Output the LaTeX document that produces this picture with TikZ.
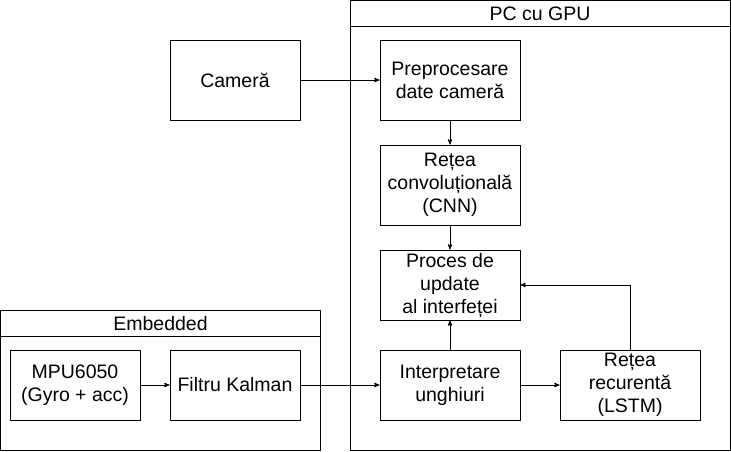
\documentclass[tikz,border=0pt]{standalone}
\usepackage{fontspec}
\setmainfont{Liberation Sans}
\usetikzlibrary{arrows}
\usetikzlibrary{positioning}

\begin{document}
\begin{tikzpicture}[->,>=stealth',x=1pt,y=-1pt,line width=0.9pt,
    block/.style={rectangle,draw,-,align=center,inner sep=0pt,
      minimum width=140pt,minimum height=80pt,font=\fontsize{19.5}{23}\selectfont},
    small block/.style={block,minimum width=130pt,minimum height=70pt},
    group/.style={rectangle,draw,-,inner sep=0pt},
    group title/.style={rectangle,draw,-,inner sep=0pt,minimum height=26pt,
      anchor=north,font=\fontsize{19.5}{23}\selectfont}]
      \useasboundingbox (0,0) rectangle (731,451);

      % containers
      \node [group,minimum width=380pt,minimum height=450pt] (pc) at (540,225.5) {};
      \node [group title,minimum width=380pt] (pctitle) at (pc.north) {PC cu GPU};
      \node [group,minimum width=320pt,minimum height=140pt] (emb) at (160.5,380.5) {};
      \node [group title,minimum width=320pt] (embtitle) at (emb.north) {Embedded};

      % blocks
      \node [small block,minimum height=80pt] (cam) at (235,80) {Cameră};
      \node [block] (prep) at (450,80) {Preprocesare\\date cameră};
      \node [block] (cnn) at (450,185) {Rețea\\convoluțională\\(CNN)};
      \node [block,minimum height=70pt] (upd) at (450,285) {Proces de\\update\\al interfeței};
      \node [block,minimum height=70pt] (unghi) at (450,385) {Interpretare\\unghiuri};
      \node [block,minimum height=70pt] (lstm) at (630,385) {Rețea\\recurentă\\(LSTM)};
      \node [small block] (mpu) at (75,385) {MPU6050\\(Gyro + acc)};
      \node [small block] (kalman) at (235,385) {Filtru Kalman};

      % connectors
      \draw (cam) -- (prep);
      \draw (prep) -- (cnn);
      \draw (cnn) -- (upd);
      \draw (mpu) -- (kalman);
      \draw (kalman) -- (unghi);
      \draw (unghi) -- (upd);
      \draw (unghi) -- (lstm);
      \draw (lstm.north) |- (upd.east);
    \end{tikzpicture}
\end{document}
